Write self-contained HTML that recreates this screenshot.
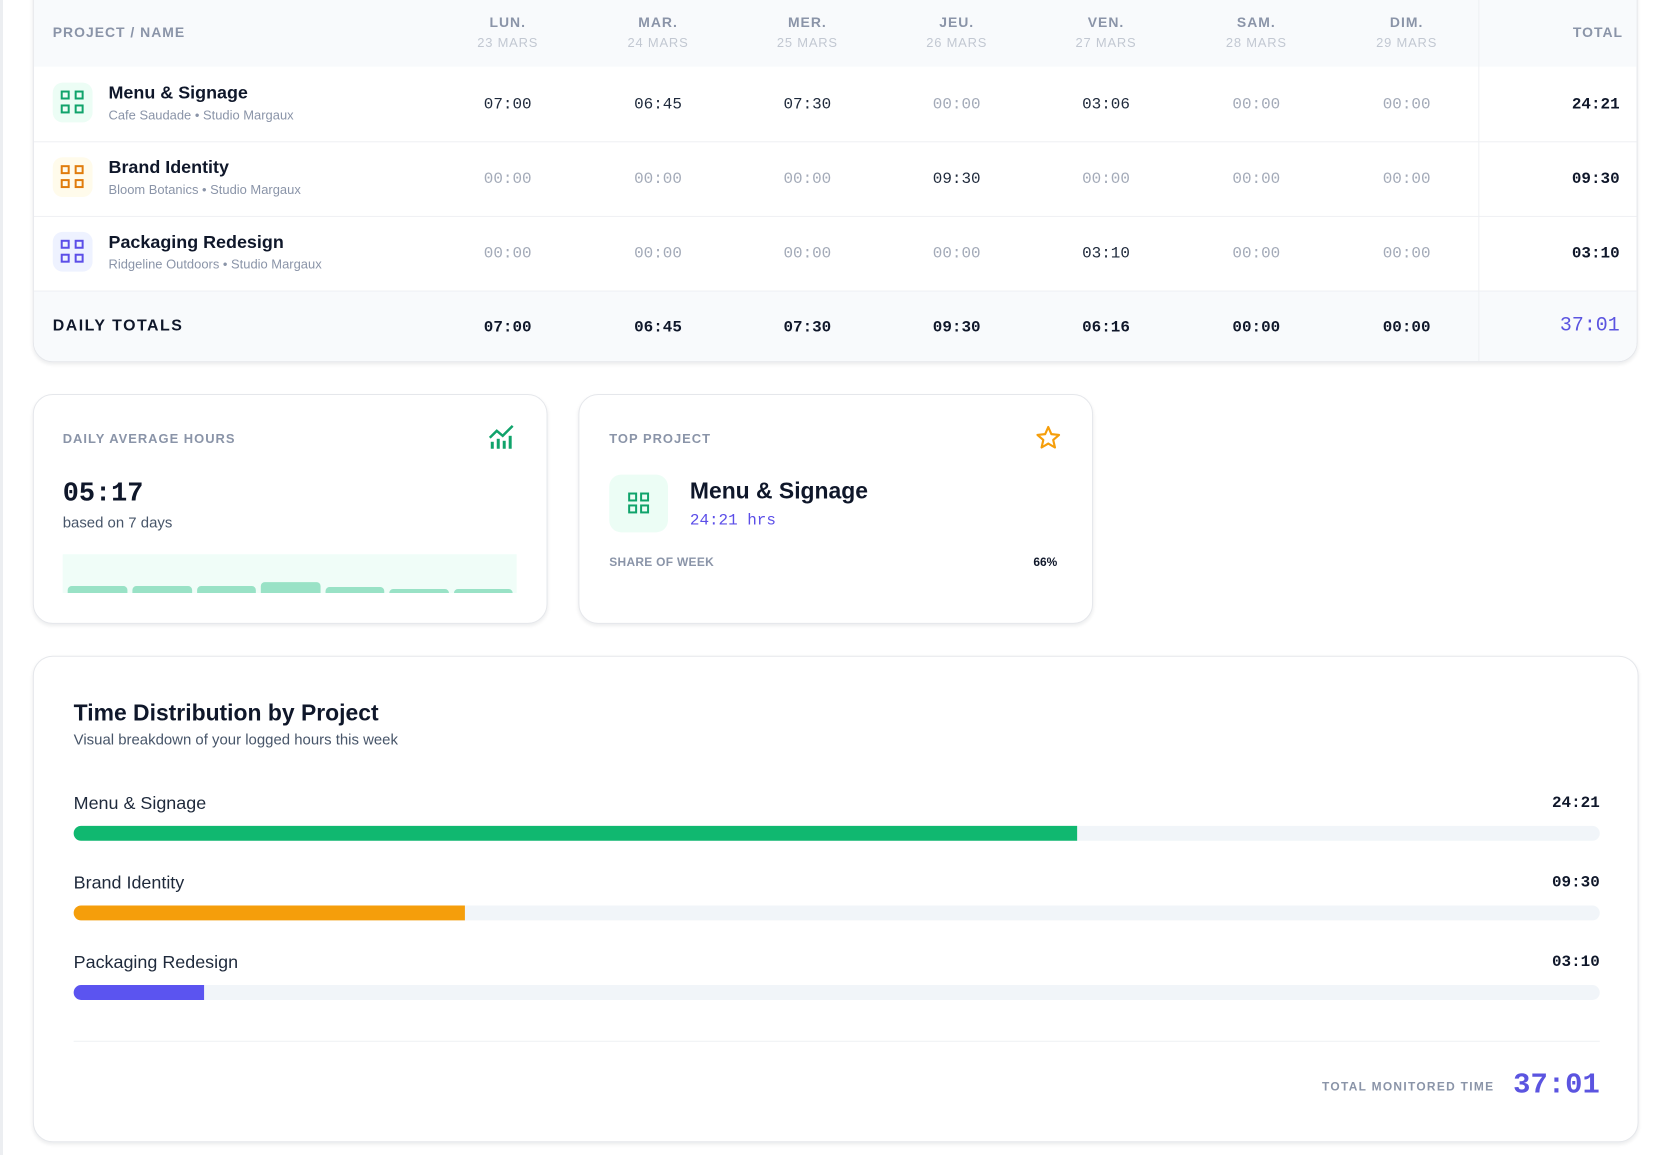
<!DOCTYPE html>
<html><head><meta charset="utf-8"><style>
*{box-sizing:border-box;margin:0;padding:0}
body{width:1670px;height:1155px;background:#fff;font-family:"Liberation Sans",sans-serif;position:relative;overflow:hidden;color:#0f172a}
#w{position:absolute;left:0;top:0;width:1670px;height:1155px;transform:scale(0.9955,0.995);transform-origin:0 0}
.a{position:absolute}
.mono{font-family:"Liberation Mono",monospace}
.card{position:absolute;background:#fff;border:1px solid #e5e7eb;border-radius:20px;box-shadow:0 2px 4px rgba(15,23,42,.08)}
.hd{font-size:14px;font-weight:bold;color:#8a94a8;letter-spacing:1px}
.c{transform:translateX(-50%);text-align:center;white-space:nowrap}
.v{font-size:16px;color:#1e293b}
.z{font-size:16px;color:#a3aab8}
.b{font-size:16px;font-weight:bold;color:#0f172a}
.ic{position:absolute;width:40px;height:40px;border-radius:10px}
.ic i{position:absolute;width:9px;height:9px;border:2.5px solid}
.lab{font-size:14px;font-weight:bold;color:#8a94a8;letter-spacing:1px}
</style></head><body>
<div class="a" style="left:0;top:0;width:3px;height:1155px;background:#eceef1"></div>
<div id="w">
<div class="card" style="left:33px;top:-20px;width:1612px;height:384px;overflow:hidden;border-radius:0 0 20px 20px">
 <div class="a" style="left:0;top:0;width:1612px;height:86px;background:#f8fafc"></div>
 <div class="a" style="left:0;top:311px;width:1612px;height:73px;background:#f8fafc;border-top:1px solid #eef0f3"></div>
 <div class="a" style="left:0;top:161px;width:1612px;height:1px;background:#eef0f3"></div>
 <div class="a" style="left:0;top:236px;width:1612px;height:1px;background:#eef0f3"></div>
 <div class="a" style="left:1451px;top:0;width:1px;height:384px;background:#eef0f3"></div>
</div>
<div class="a hd" style="left:53px;top:24px">PROJECT / NAME</div>
<div class="a hd" style="left:1580px;top:24px">TOTAL</div>

<div id="days"></div>

<div class="ic" style="left:53px;top:83px;background:#ecfdf5"><i style="left:8px;top:8px;border-color:#10a36b"></i><i style="left:22px;top:8px;border-color:#10a36b"></i><i style="left:8px;top:22px;border-color:#10a36b"></i><i style="left:22px;top:22px;border-color:#10a36b"></i></div>
<div class="ic" style="left:53px;top:158px;background:#fffbeb"><i style="left:8px;top:8px;border-color:#e07c0c"></i><i style="left:22px;top:8px;border-color:#e07c0c"></i><i style="left:8px;top:22px;border-color:#e07c0c"></i><i style="left:22px;top:22px;border-color:#e07c0c"></i></div>
<div class="ic" style="left:53px;top:233px;background:#eef2ff"><i style="left:8px;top:8px;border-color:#5b4ee8"></i><i style="left:22px;top:8px;border-color:#5b4ee8"></i><i style="left:8px;top:22px;border-color:#5b4ee8"></i><i style="left:22px;top:22px;border-color:#5b4ee8"></i></div>
<div class="a" style="left:109px;top:83px;font-size:18px;font-weight:bold">Menu &amp; Signage</div>
<div class="a" style="left:109px;top:108px;font-size:13px;color:#8a94a8">Cafe Saudade • Studio Margaux</div>
<div class="a" style="left:109px;top:158px;font-size:18px;font-weight:bold">Brand Identity</div>
<div class="a" style="left:109px;top:183px;font-size:13px;color:#8a94a8">Bloom Botanics • Studio Margaux</div>
<div class="a" style="left:109px;top:233px;font-size:18px;font-weight:bold">Packaging Redesign</div>
<div class="a" style="left:109px;top:258px;font-size:13px;color:#8a94a8">Ridgeline Outdoors • Studio Margaux</div>
<div class="a" style="left:53px;top:319px;font-size:16px;font-weight:bold;letter-spacing:1.5px">DAILY TOTALS</div>

<div class="card" style="left:33px;top:396px;width:517px;height:231px"></div>
<div class="a lab" style="left:63px;top:433px;font-size:13px">DAILY AVERAGE HOURS</div>
<svg class="a" style="left:490px;top:426px" width="28" height="26" viewBox="0 0 28 26"><polyline points="2,14 9,7 15,12 25,2" fill="none" stroke="#10a36b" stroke-width="2.5"/><g fill="#10a36b"><rect x="3" y="18" width="3" height="7"/><rect x="9" y="15" width="3" height="10"/><rect x="15" y="17" width="3" height="8"/><rect x="21" y="12" width="3" height="13"/></g></svg>
<div class="a mono" style="left:63px;top:482px;font-size:27px;font-weight:bold">05:17</div>
<div class="a" style="left:63px;top:517px;font-size:15px;color:#475569">based on 7 days</div>
<div class="a" style="left:63px;top:557px;width:456px;height:39px;background:#f0fdf8"></div>
<div class="a" style="left:68px;top:589px;width:60px;height:7px;background:#99e2c6;border-radius:4px 4px 0 0"></div>
<div class="a" style="left:133px;top:589px;width:60px;height:7px;background:#99e2c6;border-radius:4px 4px 0 0"></div>
<div class="a" style="left:198px;top:589px;width:59px;height:7px;background:#99e2c6;border-radius:4px 4px 0 0"></div>
<div class="a" style="left:262px;top:585px;width:60px;height:11px;background:#99e2c6;border-radius:4px 4px 0 0"></div>
<div class="a" style="left:327px;top:590px;width:59px;height:6px;background:#99e2c6;border-radius:4px 4px 0 0"></div>
<div class="a" style="left:391px;top:592px;width:60px;height:4px;background:#99e2c6;border-radius:4px 4px 0 0"></div>
<div class="a" style="left:456px;top:592px;width:59px;height:4px;background:#99e2c6;border-radius:4px 4px 0 0"></div>

<div class="card" style="left:581px;top:396px;width:517px;height:231px"></div>
<div class="a lab" style="left:612px;top:433px;font-size:13px">TOP PROJECT</div>
<svg class="a" style="left:1040px;top:427px" width="26" height="26" viewBox="0 0 24 24"><polygon points="12,2 14.9,8.6 22,9.3 16.6,14 18.2,21 12,17.3 5.8,21 7.4,14 2,9.3 9.1,8.6" fill="none" stroke="#f59e0b" stroke-width="2" stroke-linejoin="round"/></svg>
<div class="ic" style="left:612px;top:477px;width:59px;height:58px;border-radius:12px;background:#ecfdf5"><i style="left:19px;top:18px;border-color:#10a36b"></i><i style="left:31px;top:18px;border-color:#10a36b"></i><i style="left:19px;top:30px;border-color:#10a36b"></i><i style="left:31px;top:30px;border-color:#10a36b"></i></div>
<div class="a" style="left:693px;top:480px;font-size:23px;font-weight:bold">Menu &amp; Signage</div>
<div class="a mono" style="left:693px;top:514px;font-size:16px;color:#5b4ee8">24:21 hrs</div>
<div class="a lab" style="left:612px;top:558px;font-size:12px;letter-spacing:.3px">SHARE OF WEEK</div>
<div class="a" style="left:1038px;top:558px;font-size:12px;font-weight:bold">66%</div>

<div class="card" style="left:33px;top:659px;width:1613px;height:489px"></div>
<div class="a" style="left:74px;top:703px;font-size:23px;font-weight:bold">Time Distribution by Project</div>
<div class="a" style="left:74px;top:735px;font-size:15px;color:#475569">Visual breakdown of your logged hours this week</div>

<div class="a" style="left:74px;top:797px;font-size:18px;color:#1e293b">Menu &amp; Signage</div>
<div class="a mono" style="left:1540px;top:798px;width:67px;text-align:right;font-size:16px;font-weight:bold">24:21</div>
<div class="a" style="left:74px;top:830px;width:1533px;height:15px;background:#f1f5f9;border-radius:8px"></div>
<div class="a" style="left:74px;top:830px;width:1008px;height:15px;background:#10b870;border-radius:8px 0 0 8px"></div>

<div class="a" style="left:74px;top:877px;font-size:18px;color:#1e293b">Brand Identity</div>
<div class="a mono" style="left:1540px;top:878px;width:67px;text-align:right;font-size:16px;font-weight:bold">09:30</div>
<div class="a" style="left:74px;top:910px;width:1533px;height:15px;background:#f1f5f9;border-radius:8px"></div>
<div class="a" style="left:74px;top:910px;width:393px;height:15px;background:#f59e0b;border-radius:8px 0 0 8px"></div>

<div class="a" style="left:74px;top:957px;font-size:18px;color:#1e293b">Packaging Redesign</div>
<div class="a mono" style="left:1540px;top:958px;width:67px;text-align:right;font-size:16px;font-weight:bold">03:10</div>
<div class="a" style="left:74px;top:990px;width:1533px;height:15px;background:#f1f5f9;border-radius:8px"></div>
<div class="a" style="left:74px;top:990px;width:131px;height:15px;background:#5b54f0;border-radius:8px 0 0 8px"></div>

<div class="a" style="left:74px;top:1046px;width:1533px;height:1px;background:#eef0f3"></div>
<div class="a lab" style="left:1328px;top:1085px;font-size:12px;letter-spacing:1.3px">TOTAL MONITORED TIME</div>
<div class="a mono" style="left:1520px;top:1074px;width:87px;text-align:right;font-size:29px;font-weight:bold;color:#5b54e0">37:01</div>

<div class="a mono b" style="left:1560px;top:96px;width:67px;text-align:right">24:21</div>
<div class="a mono b" style="left:1560px;top:171px;width:67px;text-align:right">09:30</div>
<div class="a mono b" style="left:1560px;top:246px;width:67px;text-align:right">03:10</div>
<div class="a mono" style="left:1540px;top:316px;width:87px;text-align:right;font-size:20px;color:#5b54e0">37:01</div>
</div>
<script>
var days=[["LUN.","23 MARS"],["MAR.","24 MARS"],["MER.","25 MARS"],["JEU.","26 MARS"],["VEN.","27 MARS"],["SAM.","28 MARS"],["DIM.","29 MARS"]];
var xs=[510,661,811,961,1111,1262,1413];
var r1=["07:00","06:45","07:30","00:00","03:06","00:00","00:00"];
var r2=["00:00","00:00","00:00","09:30","00:00","00:00","00:00"];
var r3=["00:00","00:00","00:00","00:00","03:10","00:00","00:00"];
var t=["07:00","06:45","07:30","09:30","06:16","00:00","00:00"];
var h="";
for(var i=0;i<7;i++){var x=xs[i];
h+='<div class="a c hd" style="left:'+x+'px;top:14px">'+days[i][0]+'</div>';
h+='<div class="a c" style="left:'+x+'px;top:35px;font-size:13px;color:#c2c8d2;letter-spacing:.8px">'+days[i][1]+'</div>';
[[r1,96],[r2,171],[r3,246]].forEach(function(r){var val=r[0][i];h+='<div class="a c mono '+(val=="00:00"?"z":"v")+'" style="left:'+x+'px;top:'+r[1]+'px">'+val+'</div>';});
h+='<div class="a c mono b" style="left:'+x+'px;top:320px">'+t[i]+'</div>';}
document.getElementById("w").insertAdjacentHTML("beforeend",h);
</script>
</body></html>
